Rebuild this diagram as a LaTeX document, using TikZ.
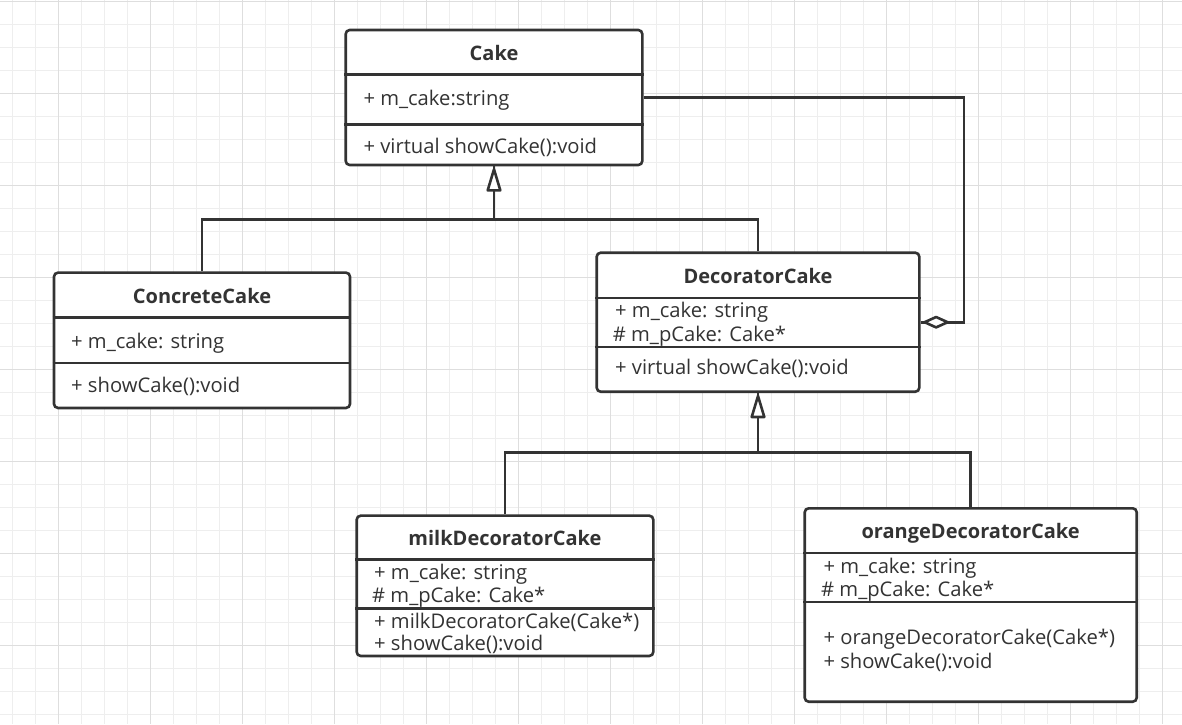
\documentclass[tikz,border=0pt]{standalone}
\usepackage{fontspec}
\setmainfont{Open Sans}
\usetikzlibrary{arrows.meta}
\definecolor{ink}{RGB}{51,51,51}
\definecolor{gridminor}{RGB}{238,238,238}
\definecolor{gridmajor}{RGB}{222,222,222}
\begin{document}
\begin{tikzpicture}[x=1pt,y=-1pt,
  umlbox/.style={draw=ink, line width=2.6pt, rounded corners=4pt, fill=white, inner sep=0pt},
  sep/.style={draw=ink, line width=2.4pt},
  ttl/.style={anchor=base, inner sep=0pt, text=ink, font=\fontsize{20}{24}\selectfont\bfseries},
  mem/.style={anchor=base west, inner sep=0pt, text=ink, font=\fontsize{20.2}{24}\selectfont},
  conn/.style={draw=ink, line width=2.8pt},
  tiphead/.style={draw=ink, fill=white, line width=2.6pt, line join=round}
]
\useasboundingbox (0,0) rectangle (1182,724);
\fill[white] (0,0) rectangle (1182,724);
% grid
\foreach \i in {0,...,50} \draw[gridminor, line width=1pt] (12.7+23*\i,0) -- (12.7+23*\i,724);
\foreach \i in {0,...,31} \draw[gridminor, line width=1pt] (0,1.3+23*\i) -- (1182,1.3+23*\i);
\foreach \i in {0,...,12} \draw[gridmajor, line width=1pt] (58.7+92*\i,0) -- (58.7+92*\i,724);
\foreach \i in {0,...,7} \draw[gridmajor, line width=1pt] (0,1.3+92*\i) -- (1182,1.3+92*\i);

% boxes
\node[umlbox, minimum width=296.6pt, minimum height=135pt] (cake) at (494,97.5) {};
\node[umlbox, minimum width=296pt, minimum height=135.3pt] (cc) at (202,340.3) {};
\node[umlbox, minimum width=322.6pt, minimum height=139pt] (dc) at (758,322.2) {};
\node[umlbox, minimum width=296.6pt, minimum height=140.3pt] (milk) at (505,585.8) {};
\node[umlbox, minimum width=332pt, minimum height=193.4pt] (orange) at (970.7,605) {};

% separators
\draw[sep] (cake.west |- 0,74.3) -- (cake.east |- 0,74.3);
\draw[sep] (cake.west |- 0,124.3) -- (cake.east |- 0,124.3);
\draw[sep] (cc.west |- 0,317.3) -- (cc.east |- 0,317.3);
\draw[sep] (cc.west |- 0,362.7) -- (cc.east |- 0,362.7);
\draw[sep] (dc.west |- 0,297.7) -- (dc.east |- 0,297.7);
\draw[sep] (dc.west |- 0,346.7) -- (dc.east |- 0,346.7);
\draw[sep] (milk.west |- 0,559.3) -- (milk.east |- 0,559.3);
\draw[sep] (milk.west |- 0,608.3) -- (milk.east |- 0,608.3);
\draw[sep] (orange.west |- 0,552.7) -- (orange.east |- 0,552.7);
\draw[sep] (orange.west |- 0,601.7) -- (orange.east |- 0,601.7);

% texts
\node[ttl] (t1) at (494,60.3) {Cake};
\node[mem] (a11) at (363.3,105.8) {+ m\_cake:string};
\node[mem] (m11) at (363.3,153.2) {+ virtual showCake():void};

\node[ttl] (t2) at (202,303) {ConcreteCake};
\node[mem] (a21) at (71,348.2) {+ m\_cake: string};
\node[mem] (m21) at (71,392.5) {+ showCake():void};

\node[ttl] (t3) at (758,283) {DecoratorCake};
\node[mem] (a31) at (615,317.5) {+ m\_cake: string};
\node[mem] (a32) at (612.7,341.5) {\# m\_pCake: Cake*};
\node[mem] (m31) at (615,374.8) {+ virtual showCake():void};

\node[ttl] (t4) at (505,545.3) {milkDecoratorCake};
\node[mem] (a41) at (374,579.8) {+ m\_cake: string};
\node[mem] (a42) at (372,602.5) {\# m\_pCake: Cake*};
\node[mem] (m41) at (374,628.2) {+ milkDecoratorCake(Cake*)};
\node[mem] (m42) at (374,650.5) {+ showCake():void};

\node[ttl] (t5) at (970.7,538.7) {orangeDecoratorCake};
\node[mem] (a51) at (823.3,573.2) {+ m\_cake: string};
\node[mem] (a52) at (821,596.5) {\# m\_pCake: Cake*};
\node[mem] (m51) at (823.3,644.8) {+ orangeDecoratorCake(Cake*)};
\node[mem] (m52) at (823.3,668.2) {+ showCake():void};

% connectors
\coordinate (j1) at (cake.south |- 0,219.3);
\draw[conn] (cc.north) |- (j1) -- (cake.south);
\draw[conn] (dc.north) |- (j1);
\coordinate (j2) at (dc.south |- 0,452.5);
\draw[conn] (milk.north) |- (j2) -- (dc.south);
\draw[conn] (orange.north) |- (j2);
\coordinate (ac) at (964,97.5);
\draw[conn] (cake.east) -- (ac) |- (dc.east);

% arrow heads
\draw[tiphead] ([yshift=-3pt]cake.south) -- ++(6.3,21) -- ++(-12.6,0) -- cycle;
\draw[tiphead] ([yshift=-3pt]dc.south) -- ++(6.3,21) -- ++(-12.6,0) -- cycle;
\draw[tiphead] ([xshift=4pt]dc.east) -- ++(11.5,-5.2) -- ++(11.5,5.2) -- ++(-11.5,5.2) -- cycle;
\end{tikzpicture}
\end{document}
